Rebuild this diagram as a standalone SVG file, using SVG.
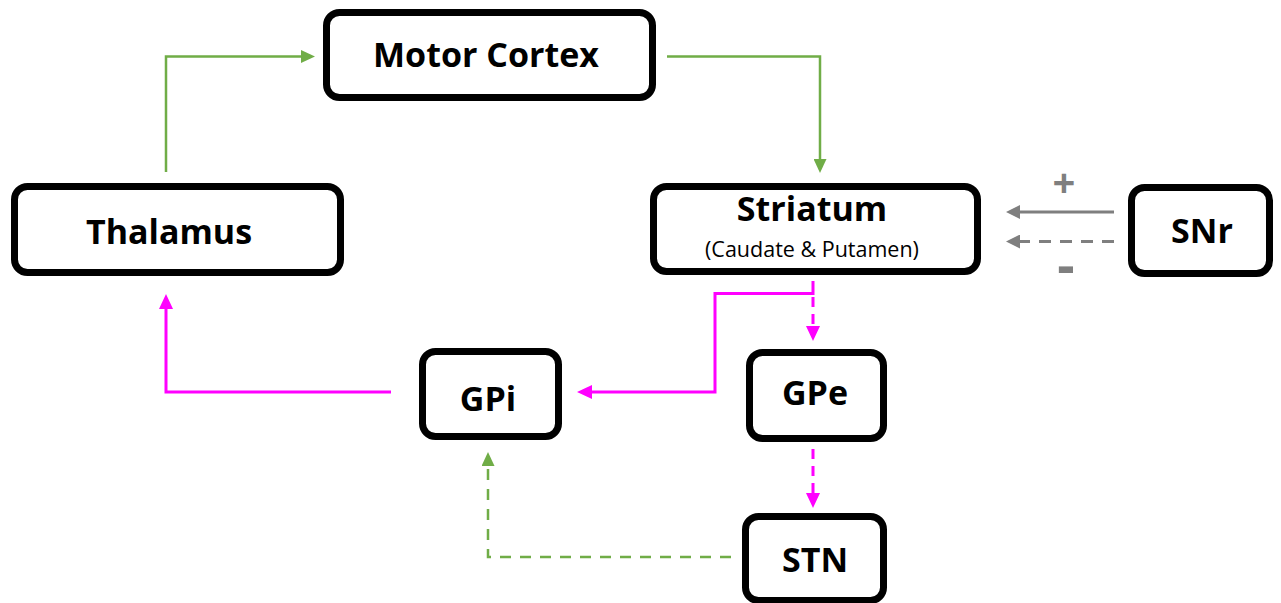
<svg xmlns="http://www.w3.org/2000/svg" width="1281" height="603" viewBox="0 0 1281 603">
<style>
.box{fill:#fff;stroke:#000;stroke-width:7}
.t{font-family:"Open Sans","Liberation Sans",sans-serif;font-weight:bold;font-size:34px;fill:#000;text-anchor:middle}
.s{font-family:"Open Sans","Liberation Sans",sans-serif;font-size:21.5px;fill:#000;text-anchor:middle}
.sg{font-family:"Open Sans","Liberation Sans",sans-serif;font-weight:bold;fill:#7f7f7f;text-anchor:middle}
.g{fill:none;stroke:#70AD47;stroke-width:2.5}
.m{fill:none;stroke:#FF00FF;stroke-width:3}
.k{fill:none;stroke:#7F7F7F;stroke-width:3}
.dg{stroke-dasharray:11 9}
.dm{stroke-dasharray:10 7}
.dk{stroke-dasharray:12 9}
</style>
<defs>
<marker id="ag" markerUnits="userSpaceOnUse" markerWidth="15" markerHeight="13" refX="1" refY="6.5" orient="auto"><path d="M0,0 L14,6.5 L0,13 z" fill="#70AD47"/></marker>
<marker id="am" markerUnits="userSpaceOnUse" markerWidth="16" markerHeight="14" refX="1" refY="7" orient="auto"><path d="M0,0 L15,7 L0,14 z" fill="#FF00FF"/></marker>
<marker id="ak" markerUnits="userSpaceOnUse" markerWidth="15" markerHeight="14" refX="1" refY="7" orient="auto"><path d="M0,0 L14,7 L0,14 z" fill="#7F7F7F"/></marker>
</defs>
<rect width="1281" height="603" fill="#fff"/>
<g id="connectors">
<path class="g" d="M166,172 V56.5 H302" marker-end="url(#ag)"/>
<path class="g" d="M667,56.5 H820 V160" marker-end="url(#ag)"/>
<path class="k" d="M1114,212 H1019" marker-end="url(#ak)"/>
<path class="k dk" d="M1114,241.5 H1019" marker-end="url(#ak)"/>
<path class="m" d="M813,281 V293.5 H715 V392 H591" marker-end="url(#am)"/>
<path class="m dm" d="M813,297 V327" marker-end="url(#am)"/>
<path class="m dm" d="M813,449 V494" marker-end="url(#am)"/>
<path class="m" d="M391,392 H166 V308" marker-end="url(#am)"/>
<path class="g dg" d="M731,557 H488 V465" marker-end="url(#ag)"/>
<text class="sg" x="1064" y="197" font-size="40">+</text>
<text class="sg" x="1066" y="284" font-size="54">-</text>
</g>
<g id="motor-cortex"><rect class="box" x="326.5" y="12.5" width="326" height="85" rx="13"/><text class="t" x="486" y="67">Motor Cortex</text></g>
<g id="thalamus"><rect class="box" x="14.5" y="186.5" width="326" height="86" rx="13"/><text class="t" x="169" y="244">Thalamus</text></g>
<g id="striatum"><rect class="box" x="653.5" y="186.5" width="324" height="85" rx="13"/><text class="t" x="812" y="221">Striatum</text><text class="s" x="812" y="257">(Caudate &amp; Putamen)</text></g>
<g id="snr"><rect class="box" x="1131.5" y="187.5" width="138" height="86" rx="13"/><text class="t" x="1202" y="243">SNr</text></g>
<g id="gpi"><rect class="box" x="422.5" y="351.5" width="136" height="85" rx="13"/><text class="t" x="488" y="411">GPi</text></g>
<g id="gpe"><rect class="box" x="749.5" y="352.5" width="134" height="86" rx="13"/><text class="t" x="815" y="405">GPe</text></g>
<g id="stn"><rect class="box" x="745.5" y="516.5" width="138" height="84" rx="13"/><text class="t" x="815" y="572">STN</text></g>
</svg>
